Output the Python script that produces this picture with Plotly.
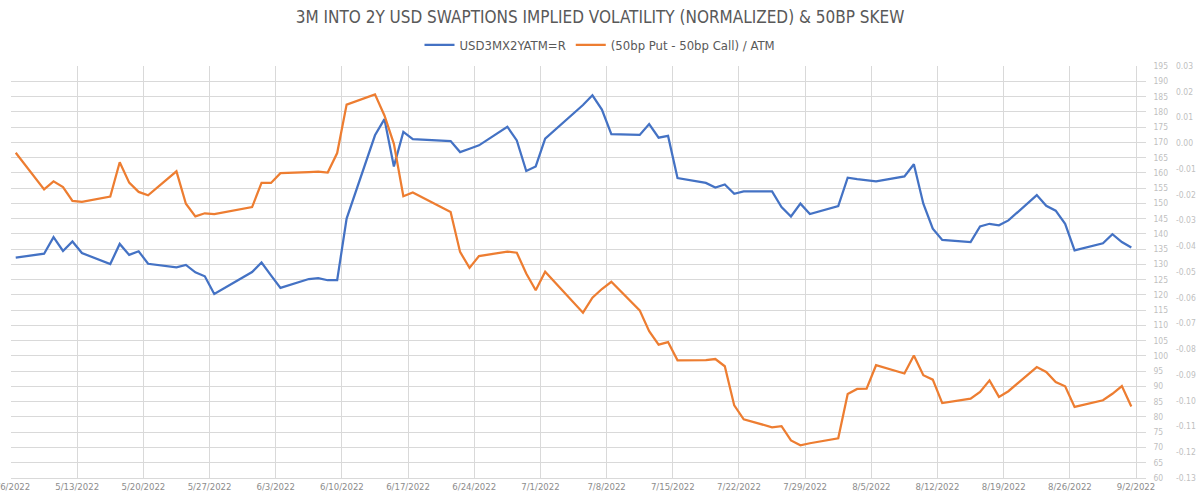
import plotly.graph_objects as go

dates = [
    "2022-05-06", "2022-05-09", "2022-05-10", "2022-05-11", "2022-05-12", "2022-05-13",
    "2022-05-16", "2022-05-17", "2022-05-18", "2022-05-19", "2022-05-20", "2022-05-23",
    "2022-05-24", "2022-05-25", "2022-05-26", "2022-05-27", "2022-05-31",
    "2022-06-01", "2022-06-02", "2022-06-03", "2022-06-06", "2022-06-07", "2022-06-08",
    "2022-06-09", "2022-06-10", "2022-06-13", "2022-06-14", "2022-06-15", "2022-06-16",
    "2022-06-17", "2022-06-21", "2022-06-22", "2022-06-23", "2022-06-24", "2022-06-27",
    "2022-06-28", "2022-06-29", "2022-06-30",
    "2022-07-01", "2022-07-05", "2022-07-06", "2022-07-07", "2022-07-08", "2022-07-11",
    "2022-07-12", "2022-07-13", "2022-07-14", "2022-07-15", "2022-07-18", "2022-07-19",
    "2022-07-20", "2022-07-21", "2022-07-22", "2022-07-25", "2022-07-26", "2022-07-27",
    "2022-07-28", "2022-07-29",
    "2022-08-01", "2022-08-02", "2022-08-03", "2022-08-04", "2022-08-05", "2022-08-08",
    "2022-08-09", "2022-08-10", "2022-08-11", "2022-08-12", "2022-08-15", "2022-08-16",
    "2022-08-17", "2022-08-18", "2022-08-19", "2022-08-22", "2022-08-23", "2022-08-24",
    "2022-08-25", "2022-08-26", "2022-08-29", "2022-08-30", "2022-08-31",
    "2022-09-01",
]

atm_vol = [
    132.2, 133.5, 138.9, 134.4, 137.5, 133.7, 130.1, 136.7, 133.1, 134.3, 130.2, 129.0,
    129.8, 127.4, 126.1, 120.3, 127.5,
    130.6, 126.4, 122.3, 125.2, 125.5, 124.8, 124.8, 145.0, 172.3, 177.6, 162.1, 173.4,
    171.0, 170.4, 166.8, 167.9, 169.0, 175.1, 170.6, 160.6, 162.1,
    171.2, 182.2, 185.4, 180.7, 172.7, 172.4, 176.0, 171.5, 172.1, 158.3, 156.7, 155.2,
    156.2, 153.1, 153.9, 153.9, 148.8, 145.7, 149.9, 146.5,
    149.1, 158.4, 157.9, 157.5, 157.2, 158.8, 162.8, 149.9, 141.7, 138.0, 137.3, 142.4,
    143.3, 142.8, 144.4, 152.7, 149.2, 147.6, 143.3, 134.6, 136.9, 139.9, 137.3,
    135.5,
]

skew = [
    -0.0037, -0.0179, -0.0148, -0.0170, -0.0224, -0.0228, -0.0207, -0.0074, -0.0153,
    -0.0189, -0.0202, -0.0109, -0.0235, -0.0284, -0.0272, -0.0275, -0.0248,
    -0.0154, -0.0154, -0.0116, -0.0112, -0.0110, -0.0114, -0.0038, 0.0150, 0.0190,
    0.0108, -0.0002, -0.0206, -0.0191, -0.0267, -0.0422, -0.0484, -0.0438, -0.0421,
    -0.0425, -0.0506, -0.0571,
    -0.0499, -0.0658, -0.0600, -0.0566, -0.0538, -0.0649, -0.0730, -0.0782, -0.0772,
    -0.0843, -0.0842, -0.0838, -0.0866, -0.1018, -0.1072, -0.1103, -0.1099, -0.1154,
    -0.1173, -0.1165,
    -0.1146, -0.0974, -0.0954, -0.0953, -0.0862, -0.0894, -0.0824, -0.0901, -0.0918,
    -0.1009, -0.0992, -0.0966, -0.0921, -0.0985, -0.0963, -0.0869, -0.0888, -0.0927,
    -0.0944, -0.1024, -0.0998, -0.0973, -0.0943,
    -0.1022,
]

series_names = ["USD3MX2YATM=R", "(50bp Put - 50bp Call) / ATM"]
title_text = "3M INTO 2Y USD SWAPTIONS IMPLIED VOLATILITY (NORMALIZED) & 50BP SKEW"

y1_ticks = list(range(60, 196, 5))
y2_tickvals = [-0.13, -0.12, -0.11, -0.10, -0.09, -0.08, -0.07, -0.06, -0.05, -0.04,
               -0.03, -0.02, -0.01, 0.00, 0.01, 0.02, 0.03]
y2_ticktext = ["-0.13", "-0.12", "-0.11", "-0.10", "-0.09", "-0.08", "-0.07", "-0.06",
               "-0.05", "-0.04", "-0.03", "-0.02", "-0.01", "0.00", "0.01", "0.02", "0.03"]

FONT = "DejaVu Sans Condensed, Roboto, sans-serif"
DAY_MS = 86400000

fig = go.Figure()
fig.add_trace(go.Scatter(
    x=dates, y=atm_vol, name=series_names[0], mode="lines",
    line=dict(color="#4472C4", width=2.25),
    xperiod=DAY_MS, xperiodalignment="middle", yaxis="y",
))
fig.add_trace(go.Scatter(
    x=dates, y=skew, name=series_names[1], mode="lines",
    line=dict(color="#ED7D31", width=2.25),
    xperiod=DAY_MS, xperiodalignment="middle", yaxis="y2",
))

L = 11
W = 1200 - L
x_end = (1145.5 - L) / W

fig.update_layout(
    template="none",
    width=1200, height=500,
    margin=dict(l=L, r=0, t=66, b=22, pad=0),
    paper_bgcolor="white", plot_bgcolor="white",
    font=dict(family=FONT, color="#595959"),
    title=dict(text=title_text, x=0.5, xanchor="center", y=1 - 17 / 500, yanchor="middle",
               yref="container", font=dict(size=17, color="#595959", family=FONT)),
    showlegend=True,
    legend=dict(orientation="h", x=0.5, xanchor="center", xref="container",
                y=1 - 45 / 500, yanchor="middle", yref="container",
                font=dict(size=13, color="#595959", family=FONT),
                bgcolor="rgba(0,0,0,0)", itemwidth=30),
    xaxis=dict(
        type="date", domain=[0, x_end],
        range=["2022-05-06", "2022-09-03"],
        tick0="2022-05-06", dtick=7 * DAY_MS, tickformat="%-m/%-d/%Y",
        showgrid=True, gridcolor="#d9d9d9", gridwidth=1,
        showline=True, linecolor="#d9d9d9", linewidth=1,
        ticks="", zeroline=False, automargin=False,
        ticklabeloverflow="allow",
        tickfont=dict(size=9.5, color="#8c8c8c", family=FONT),
    ),
    yaxis=dict(
        range=[60, 195], tickvals=y1_ticks, side="right", anchor="x",
        showgrid=True, gridcolor="#d9d9d9", gridwidth=1,
        showline=False, ticks="", zeroline=False, automargin=False,
        ticklabelstandoff=7,
        tickfont=dict(size=8.5, color="#bfbfbf", family=FONT),
    ),
    yaxis2=dict(
        range=[-0.13, 0.03], tickvals=y2_tickvals, ticktext=y2_ticktext,
        overlaying="y", side="right", anchor="free", position=(1175 - L) / W,
        showgrid=False, showline=False, ticks="", zeroline=False, automargin=False,
        tickfont=dict(size=8.5, color="#bfbfbf", family=FONT),
    ),
)

fig.write_html("out.html")
